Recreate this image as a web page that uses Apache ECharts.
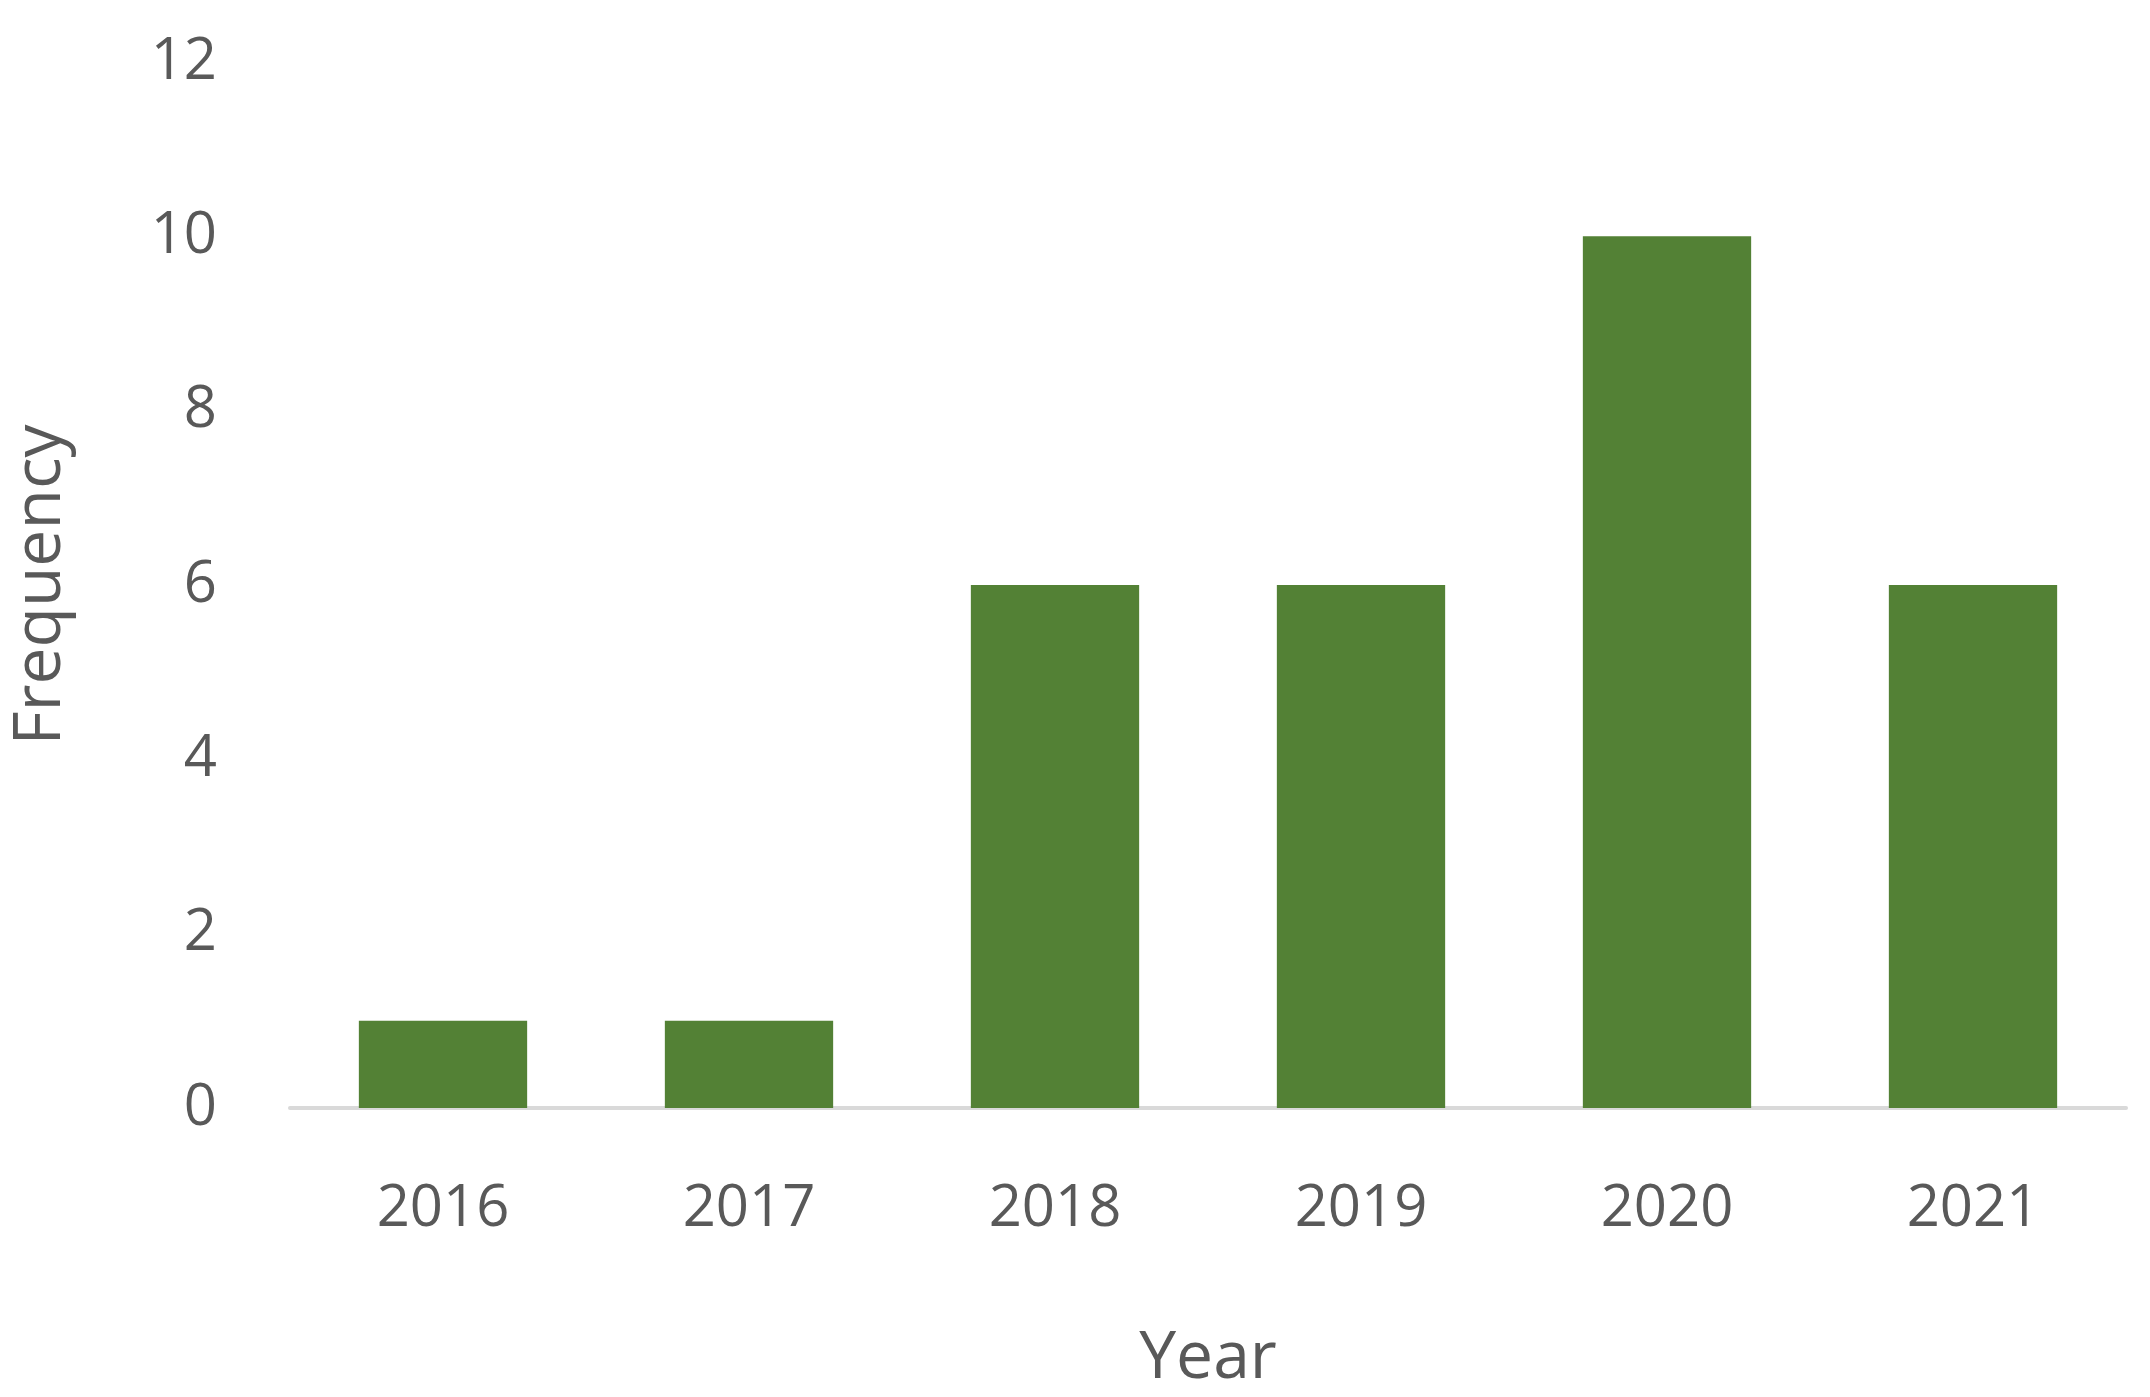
<!DOCTYPE html>
<html><head><meta charset="utf-8">
<script src="https://cdn.jsdelivr.net/npm/echarts@6/dist/echarts.min.js"></script>
<style>html,body{margin:0;background:#fff}#c{width:2150px;height:1397px}</style>
</head><body><div id="c"></div>
<script>
var years = ['2016', '2017', '2018', '2019', '2020', '2021'];
var frequency = [1, 1, 6, 6, 10, 6];
var yTicks = {min: 0, max: 12, interval: 2};

var chart = echarts.init(document.getElementById('c'));
var txt = {color: '#595959', fontFamily: 'Open Sans', fontSize: 58};
chart.setOption({
  animation: false,
  grid: {left: 274, right: 24, top: 62, bottom: 275},
  xAxis: {
    type: 'category', data: years,
    name: 'Year', nameLocation: 'middle', nameGap: 218,
    nameTextStyle: {color: '#595959', fontFamily: 'Open Sans', fontSize: 66},
    axisLine: {lineStyle: {color: '#d9d9d9', width: 4}},
    axisTick: {show: false},
    axisLabel: Object.assign({margin: 72}, txt)
  },
  yAxis: {
    type: 'value', min: yTicks.min, max: yTicks.max, interval: yTicks.interval,
    name: 'Frequency', nameLocation: 'middle', nameGap: 216, nameRotate: 90,
    nameTextStyle: {color: '#595959', fontFamily: 'Open Sans', fontSize: 66},
    splitLine: {show: false},
    axisLine: {show: false}, axisTick: {show: false},
    axisLabel: Object.assign({margin: 73}, txt)
  },
  series: [{
    type: 'bar', data: frequency, barWidth: '55%',
    itemStyle: {color: '#538135'}
  }]
});
</script></body></html>
